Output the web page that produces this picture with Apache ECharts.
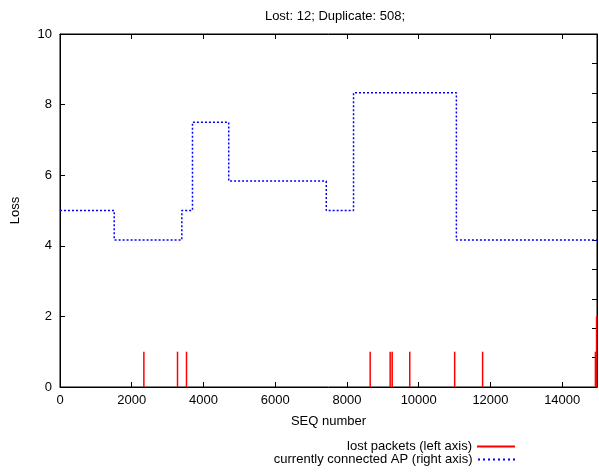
<!DOCTYPE html>
<html>
<head>
<meta charset="utf-8">
<script src="https://cdn.jsdelivr.net/npm/echarts@6/dist/echarts.min.js"></script>
<style>
	html, body { margin: 0; padding: 0; background: #fff; }
	#main { width: 599px; height: 472px; }
</style>
</head>
<body>
<div id="main"></div>
<script>
// lost packets: sequence number and count (left axis)
var lostSeq = [2338, 3276, 3526, 8647, 9204, 9260, 9750, 11002, 11781, 14926, 14958];
var lostCount = [1, 1, 1, 1, 1, 1, 1, 1, 1, 1, 2];

// connected AP: sequence number where it changes and AP index (right axis)
var apSeq = [0, 1511, 3396, 3693, 4704, 7423, 8183, 11050, 14970];
var apIndex = [6, 5, 6, 9, 7, 6, 10, 5, 5];

var font = 'Liberation Sans, Arial, Helvetica, sans-serif';

var lostData = lostSeq.map(function (s, i) { return [s, lostCount[i]]; });
var apData = apSeq.map(function (s, i) { return [s, apIndex[i]]; });

// dotted sample for the legend
var dots = '';
for (var d = 0; d < 8; d++) {
	dots += 'M' + (d * 5) + ',0h2v2h-2z';
}

var chart = echarts.init(document.getElementById('main'));

var axisLine = { show: true, onZero: false, lineStyle: { color: '#000', width: 1 } };
var axisTick = { inside: true, length: 5, lineStyle: { color: '#000' } };
var textStyle = { fontFamily: font, fontSize: 13, color: '#000' };

chart.setOption({
	animation: false,
	title: {
		text: 'Lost: 12; Duplicate: 508;',
		left: 330,
		top: 5,
		textAlign: 'center',
		textStyle: { fontFamily: font, fontSize: 13, fontWeight: 'normal', color: '#000' }
	},
	grid: {
		left: 60, right: 2, top: 34, bottom: 85,
		show: true, borderColor: '#000', borderWidth: 1, backgroundColor: 'transparent'
	},
	legend: [{
		data: [{ name: 'lost packets (left axis)', icon: 'rect' }],
		orient: 'vertical',
		align: 'right',
		right: 84,
		top: 440,
		padding: 0,
		itemWidth: 38,
		itemHeight: 2,
		textStyle: textStyle
	}, {
		data: [{ name: 'currently connected AP (right axis)', icon: 'path://' + dots }],
		orient: 'vertical',
		align: 'right',
		right: 84,
		top: 453,
		padding: 0,
		itemWidth: 38,
		itemHeight: 2,
		textStyle: textStyle
	}],
	xAxis: [{
		type: 'value',
		min: 0,
		max: 14970,
		interval: 2000,
		name: 'SEQ number',
		nameLocation: 'middle',
		nameGap: 28,
		nameTextStyle: textStyle,
		axisLine: axisLine,
		axisTick: axisTick,
		axisLabel: {
			fontFamily: font, fontSize: 13, color: '#000', margin: 7, showMaxLabel: false,
			formatter: function (v) { return String(v); }
		},
		splitLine: { show: false }
	}, {
		type: 'value',
		position: 'top',
		min: 0,
		max: 14970,
		interval: 2000,
		axisLine: axisLine,
		axisTick: axisTick,
		axisLabel: { show: false },
		splitLine: { show: false }
	}],
	yAxis: [{
		type: 'value',
		min: 0,
		max: 10,
		interval: 2,
		name: 'Loss',
		nameLocation: 'middle',
		nameGap: 38,
		nameTextStyle: textStyle,
		axisLine: axisLine,
		axisTick: axisTick,
		axisLabel: { fontFamily: font, fontSize: 13, color: '#000', margin: 8 },
		splitLine: { show: false }
	}, {
		type: 'value',
		position: 'right',
		min: 0,
		max: 12,
		interval: 1,
		axisLine: axisLine,
		axisTick: axisTick,
		axisLabel: { show: false },
		splitLine: { show: false }
	}],
	series: [{
		name: 'lost packets (left axis)',
		type: 'custom',
		xAxisIndex: 0,
		yAxisIndex: 0,
		itemStyle: { color: '#ff0000' },
		data: lostData,
		renderItem: function (params, api) {
			var p0 = api.coord([api.value(0), 0]);
			var p1 = api.coord([api.value(0), api.value(1)]);
			return {
				type: 'line',
				shape: { x1: p0[0], y1: p0[1], x2: p1[0], y2: p1[1] },
				style: { stroke: '#ff0000', lineWidth: 1.5 }
			};
		}
	}, {
		name: 'currently connected AP (right axis)',
		type: 'line',
		xAxisIndex: 0,
		yAxisIndex: 1,
		step: 'end',
		showSymbol: false,
		symbol: 'none',
		color: '#0000ff',
		itemStyle: { color: '#0000ff' },
		lineStyle: { color: '#0000ff', width: 1.5, type: [2, 2] },
		data: apData
	}]
});
</script>
</body>
</html>
